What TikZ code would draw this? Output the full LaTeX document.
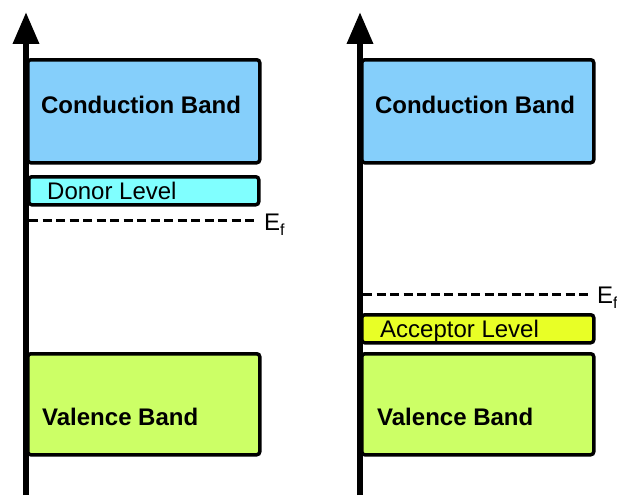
\documentclass[tikz,border=0pt]{standalone}
\usepackage{fontspec}
\setmainfont{Liberation Sans}
\usetikzlibrary{arrows.meta}

\definecolor{cbandblue}{HTML}{85CFFB}
\definecolor{donorcyan}{HTML}{80FFFF}
\definecolor{vbandgreen}{HTML}{CCFF66}
\definecolor{acceptoryellow}{HTML}{E8FF26}

\tikzset{
  band/.style={draw=black, line width=3.5pt, rounded corners=3pt,
    anchor=north west, inner sep=0pt, minimum width=232pt},
  bandlabel/.style={font=\fontsize{24}{24}\selectfont\bfseries, inner sep=0pt},
  levellabel/.style={font=\fontsize{24}{24}\selectfont, inner sep=0pt, anchor=base west},
  fermiline/.style={line width=3pt, dash pattern=on 9pt off 4.5pt},
  fermilabel/.style={font=\fontsize{24}{24}\selectfont, inner sep=0pt, anchor=base west},
  energyaxis/.style={line width=6.5pt, -{Triangle[width=25pt,length=32pt]}}
}

\begin{document}
\begin{tikzpicture}[x=1pt, y=-1pt]
  \useasboundingbox (0,0) rectangle (617,495);

  % ---- n-type (left) ----
  \node[band, fill=cbandblue, minimum height=103pt] (cbL) at (26,58) {};
  \node[bandlabel, anchor=base] (cbLtext) at (141,113) {Conduction Band};

  \node[band, fill=donorcyan, minimum height=28pt, minimum width=230pt] (donor) at (27,175) {};
  \node[levellabel] (donortext) at (47,199) {Donor Level};

  \coordinate (efLa) at (29,220);
  \coordinate (efLb) at (257,220);
  \draw[fermiline] (efLa) -- (efLb);
  \node[fermilabel] (efL) at (264,230) {E\raisebox{-0.45ex}{\fontsize{16}{16}\selectfont f}};

  \node[band, fill=vbandgreen, minimum height=101pt] (vbL) at (26,352) {};
  \node[bandlabel, anchor=base west] (vbLtext) at (42,425) {Valence Band};

  \coordinate (axLbot) at (26,495);
  \coordinate (axLtop) at (26,12);
  \draw[energyaxis] (axLbot) -- (axLtop);

  % ---- p-type (right) ----
  \node[band, fill=cbandblue, minimum height=103pt] (cbR) at (360,58) {};
  \node[bandlabel, anchor=base] (cbRtext) at (475,113) {Conduction Band};

  \coordinate (efRa) at (363,294);
  \coordinate (efRb) at (591,294);
  \draw[fermiline] (efRa) -- (efRb);
  \node[fermilabel] (efR) at (597,303) {E\raisebox{-0.45ex}{\fontsize{16}{16}\selectfont f}};

  \node[band, fill=acceptoryellow, minimum height=28pt] (acceptor) at (360,313) {};
  \node[levellabel] (acceptortext) at (380,337) {Acceptor Level};

  \node[band, fill=vbandgreen, minimum height=101pt] (vbR) at (360,352) {};
  \node[bandlabel, anchor=base west] (vbRtext) at (377,425) {Valence Band};

  \coordinate (axRbot) at (360,495);
  \coordinate (axRtop) at (360,12);
  \draw[energyaxis] (axRbot) -- (axRtop);
\end{tikzpicture}
\end{document}
